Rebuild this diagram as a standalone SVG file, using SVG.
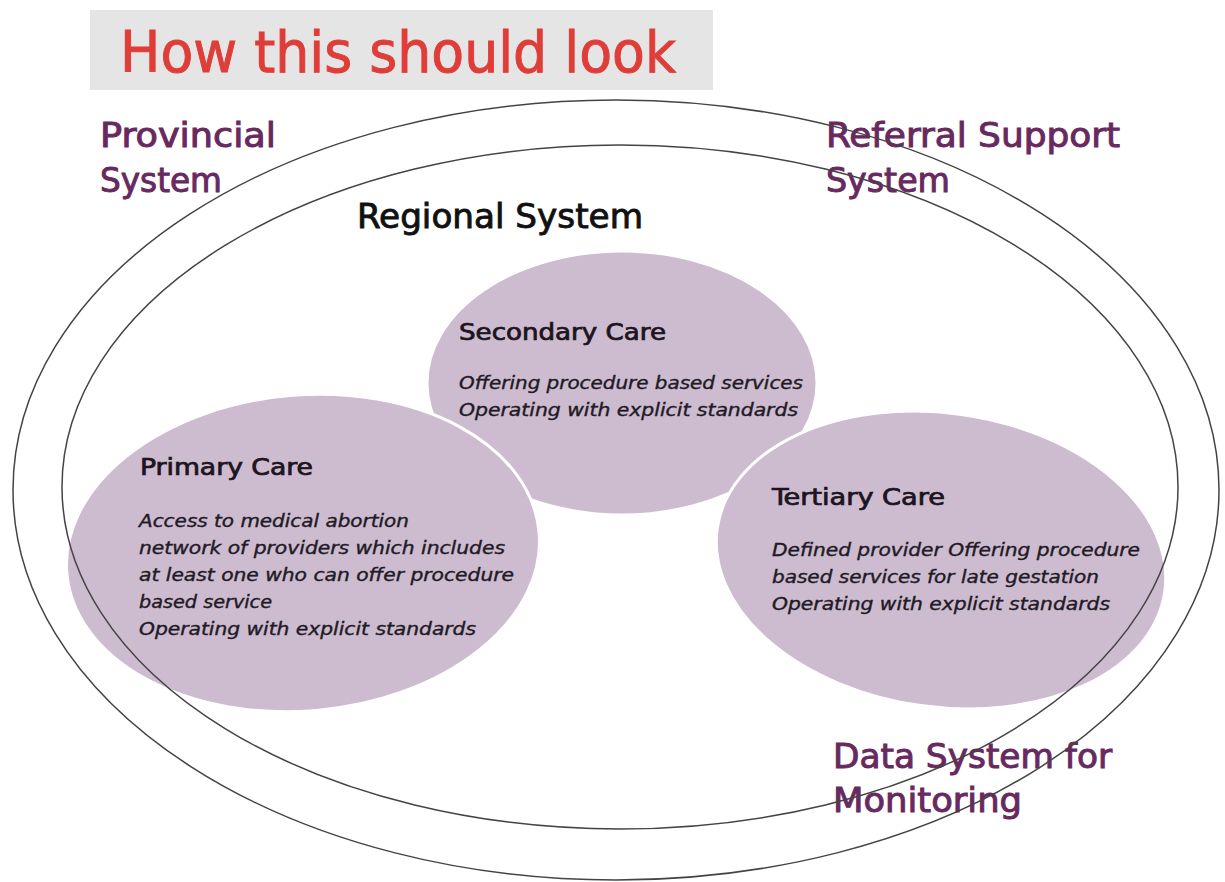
<svg xmlns="http://www.w3.org/2000/svg" width="1225" height="882" viewBox="0 0 1225 882">
<style>
text{font-family:"DejaVu Sans Condensed","DejaVu Sans","Noto Sans",sans-serif;}
.title{font-size:57px;fill:#df3d38;stroke:#df3d38;stroke-width:0.9;}
.lbl{font-size:34px;fill:#68295f;stroke:#68295f;stroke-width:0.9;}
.reg{font-size:33px;fill:#111111;stroke:#111111;stroke-width:0.8;}
.ch{font-size:23px;fill:#1c1420;stroke:#1c1420;stroke-width:0.7;}
.it{font-size:17px;font-style:italic;fill:#221a26;stroke:#221a26;stroke-width:0.35;}
.blob{fill:#cdbccf;stroke:#ffffff;stroke-width:3;}
.ring{fill:none;stroke:#444444;stroke-width:1.5;}
</style>
<rect width="1225" height="882" fill="#ffffff"/>
<g id="title">
<rect x="90" y="10" width="623" height="80" fill="#e5e5e6"/>
<text class="title" x="120" y="72" textLength="556" lengthAdjust="spacingAndGlyphs">How this should look</text>
</g>
<g id="secondary-care">
<ellipse class="blob" cx="622" cy="383" rx="195" ry="132"/>
<text class="ch" x="459" y="340" textLength="207" lengthAdjust="spacingAndGlyphs">Secondary Care</text>
<text class="it" x="459" y="389" textLength="344" lengthAdjust="spacingAndGlyphs">Offering procedure based services</text>
<text class="it" x="459" y="416" textLength="339" lengthAdjust="spacingAndGlyphs">Operating with explicit standards</text>
</g>
<g id="primary-care">
<ellipse class="blob" cx="303" cy="553" rx="237" ry="158" transform="rotate(-5 303 553)"/>
<text class="ch" x="140" y="475" textLength="173" lengthAdjust="spacingAndGlyphs">Primary Care</text>
<text class="it" x="139" y="527" textLength="270" lengthAdjust="spacingAndGlyphs">Access to medical abortion</text>
<text class="it" x="139" y="554" textLength="366" lengthAdjust="spacingAndGlyphs">network of providers which includes</text>
<text class="it" x="139" y="581" textLength="375" lengthAdjust="spacingAndGlyphs">at least one who can offer procedure</text>
<text class="it" x="139" y="608" textLength="133" lengthAdjust="spacingAndGlyphs">based service</text>
<text class="it" x="139" y="635" textLength="337" lengthAdjust="spacingAndGlyphs">Operating with explicit standards</text>
</g>
<g id="tertiary-care">
<ellipse class="blob" cx="941" cy="560" rx="226" ry="147" transform="rotate(8 941 560)"/>
<text class="ch" x="772" y="505" textLength="173" lengthAdjust="spacingAndGlyphs">Tertiary Care</text>
<text class="it" x="772" y="556" textLength="368" lengthAdjust="spacingAndGlyphs">Defined provider Offering procedure</text>
<text class="it" x="772" y="583" textLength="327" lengthAdjust="spacingAndGlyphs">based services for late gestation</text>
<text class="it" x="772" y="610" textLength="338" lengthAdjust="spacingAndGlyphs">Operating with explicit standards</text>
</g>
<g id="provincial-system">
<text class="lbl" x="100" y="147" textLength="176" lengthAdjust="spacingAndGlyphs">Provincial</text>
<text class="lbl" x="100" y="192" textLength="122" lengthAdjust="spacingAndGlyphs">System</text>
</g>
<g id="referral-support-system">
<text class="lbl" x="826" y="147" textLength="294" lengthAdjust="spacingAndGlyphs">Referral Support</text>
<text class="lbl" x="826" y="192" textLength="124" lengthAdjust="spacingAndGlyphs">System</text>
</g>
<g id="regional-system">
<text class="reg" x="357" y="228" textLength="286" lengthAdjust="spacingAndGlyphs">Regional System</text>
</g>
<g id="data-system">
<text class="lbl" x="833" y="768" textLength="279" lengthAdjust="spacingAndGlyphs">Data System for</text>
<text class="lbl" x="833" y="812" textLength="189" lengthAdjust="spacingAndGlyphs">Monitoring</text>
</g>
<g id="connectors">
<ellipse class="ring" cx="616" cy="490" rx="603" ry="390"/>
<ellipse class="ring" cx="620" cy="487" rx="558" ry="342"/>
</g>
</svg>
